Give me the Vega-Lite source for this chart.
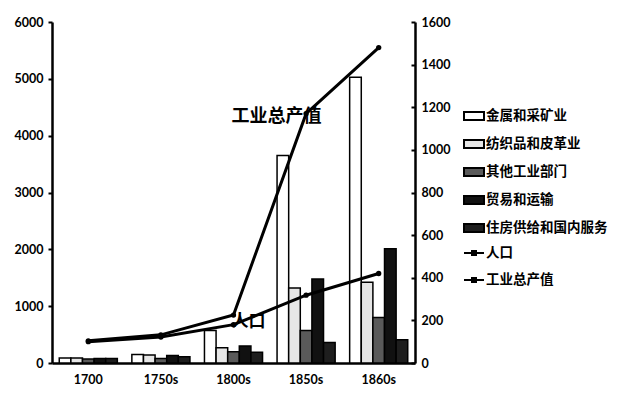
{
  "$schema": "https://vega.github.io/schema/vega-lite/v6.json",
  "width": 363,
  "height": 341,
  "autosize": "none",
  "padding": {"left": 52, "top": 22, "right": 225, "bottom": 30},
  "background": "white",
  "config": {
    "view": {"stroke": null},
    "font": "Noto Sans CJK SC",
    "axis": {
      "grid": false,
      "domainColor": "black",
      "domainWidth": 2.5,
      "tickColor": "black",
      "tickWidth": 2,
      "labelColor": "black",
      "labelFont": "Lato",
      "labelFontWeight": "bold",
      "labelFontSize": 12.5,
      "title": null
    },
    "legend": {
      "labelFont": "Noto Sans CJK SC",
      "labelFontWeight": "bold",
      "labelFontSize": 13.5,
      "labelColor": "black",
      "padding": 0,
      "title": null
    }
  },
  "layer": [
    {
      "data": {
        "values": [
          {"period": "1700", "sector": "金属和采矿业", "value": 90},
          {"period": "1700", "sector": "纺织品和皮革业", "value": 90},
          {"period": "1700", "sector": "其他工业部门", "value": 70},
          {"period": "1700", "sector": "贸易和运输", "value": 80},
          {"period": "1700", "sector": "住房供给和国内服务", "value": 80},
          {"period": "1750s", "sector": "金属和采矿业", "value": 150},
          {"period": "1750s", "sector": "纺织品和皮革业", "value": 140},
          {"period": "1750s", "sector": "其他工业部门", "value": 80},
          {"period": "1750s", "sector": "贸易和运输", "value": 130},
          {"period": "1750s", "sector": "住房供给和国内服务", "value": 110},
          {"period": "1800s", "sector": "金属和采矿业", "value": 570},
          {"period": "1800s", "sector": "纺织品和皮革业", "value": 270},
          {"period": "1800s", "sector": "其他工业部门", "value": 200},
          {"period": "1800s", "sector": "贸易和运输", "value": 300},
          {"period": "1800s", "sector": "住房供给和国内服务", "value": 190},
          {"period": "1850s", "sector": "金属和采矿业", "value": 3650},
          {"period": "1850s", "sector": "纺织品和皮革业", "value": 1320},
          {"period": "1850s", "sector": "其他工业部门", "value": 570},
          {"period": "1850s", "sector": "贸易和运输", "value": 1480},
          {"period": "1850s", "sector": "住房供给和国内服务", "value": 360},
          {"period": "1860s", "sector": "金属和采矿业", "value": 5030},
          {"period": "1860s", "sector": "纺织品和皮革业", "value": 1420},
          {"period": "1860s", "sector": "其他工业部门", "value": 800},
          {"period": "1860s", "sector": "贸易和运输", "value": 2010},
          {"period": "1860s", "sector": "住房供给和国内服务", "value": 410}
        ]
      },
      "mark": {"type": "bar", "stroke": "black", "strokeWidth": 1.5},
      "encoding": {
        "x": {
          "field": "period",
          "type": "nominal",
          "sort": ["1700", "1750s", "1800s", "1850s", "1860s"],
          "scale": {"paddingInner": 0.2, "paddingOuter": 0.1},
          "axis": {"labelAngle": 0, "ticks": false, "labelPadding": 10, "title": null}
        },
        "xOffset": {
          "field": "sector",
          "type": "nominal",
          "sort": ["金属和采矿业", "纺织品和皮革业", "其他工业部门", "贸易和运输", "住房供给和国内服务"],
          "scale": {"paddingInner": 0, "paddingOuter": 0}
        },
        "y": {
          "field": "value",
          "type": "quantitative",
          "scale": {"domain": [0, 6000], "nice": false},
          "axis": {"values": [0, 1000, 2000, 3000, 4000, 5000, 6000], "format": "d", "tickSize": 4, "labelPadding": 5, "title": null}
        },
        "fill": {
          "field": "sector",
          "type": "nominal",
          "scale": {
            "domain": ["金属和采矿业", "纺织品和皮革业", "其他工业部门", "贸易和运输", "住房供给和国内服务"],
            "range": ["#ffffff", "#e6e6e6", "#5a5a5a", "#111111", "#1e1e1e"]
          },
          "legend": {
            "orient": "none",
            "legendX": 411,
            "legendY": 83,
            "symbolType": "M-1,-0.4H1V0.4H-1Z",
            "symbolSize": 400,
            "symbolStrokeColor": "black",
            "symbolStrokeWidth": 2,
            "rowPadding": 9,
            "labelOffset": 1
          }
        }
      }
    },
    {
      "layer": [
        {
          "data": {
            "values": [
              {"period": "1700", "series": "人口", "value": 100},
              {"period": "1750s", "series": "人口", "value": 122},
              {"period": "1800s", "series": "人口", "value": 180},
              {"period": "1850s", "series": "人口", "value": 318},
              {"period": "1860s", "series": "人口", "value": 420},
              {"period": "1700", "series": "工业总产值", "value": 104},
              {"period": "1750s", "series": "工业总产值", "value": 132},
              {"period": "1800s", "series": "工业总产值", "value": 225},
              {"period": "1850s", "series": "工业总产值", "value": 1170},
              {"period": "1860s", "series": "工业总产值", "value": 1480}
            ]
          },
          "layer": [
            {
              "mark": {"type": "line", "strokeWidth": 3},
              "encoding": {
                "x": {"field": "period", "type": "nominal", "sort": ["1700", "1750s", "1800s", "1850s", "1860s"]},
                "y": {
                  "field": "value",
                  "type": "quantitative",
                  "scale": {"domain": [0, 1600], "nice": false},
                  "axis": {"orient": "right", "values": [0, 200, 400, 600, 800, 1000, 1200, 1400, 1600], "format": "d", "tickSize": -4, "labelPadding": 10, "title": null}
                },
                "stroke": {
                  "field": "series",
                  "type": "nominal",
                  "scale": {"domain": ["人口", "工业总产值"], "range": ["black", "black"]},
                  "legend": {
                    "orient": "none",
                    "legendX": 411,
                    "legendY": 220,
                    "symbolType": "M-1,0H1M-0.2,-0.2H0.2V0.2H-0.2Z",
                    "symbolSize": 400,
                    "symbolStrokeWidth": 2,
                    "symbolFillColor": "black",
                    "rowPadding": 9,
                    "labelOffset": 1
                  }
                }
              }
            },
            {
              "mark": {"type": "point", "filled": true, "size": 28, "color": "black", "opacity": 1},
              "encoding": {
                "x": {"field": "period", "type": "nominal", "sort": ["1700", "1750s", "1800s", "1850s", "1860s"]},
                "y": {"field": "value", "type": "quantitative"}
              }
            }
          ]
        },
        {
          "data": {
            "values": [
              {"period": "1800s", "label": "工业总产值", "value": 1156, "size": 18},
              {"period": "1800s", "label": "人口", "value": 193, "size": 17}
            ]
          },
          "mark": {"type": "text", "align": "left", "baseline": "middle", "dx": -2, "fontWeight": "bold", "font": "Noto Sans CJK SC", "color": "black"},
          "encoding": {
            "x": {"field": "period", "type": "nominal", "sort": ["1700", "1750s", "1800s", "1850s", "1860s"]},
            "y": {"field": "value", "type": "quantitative"},
            "text": {"field": "label"},
            "size": {"field": "size", "type": "quantitative", "scale": null, "legend": null}
          }
        }
      ]
    }
  ],
  "resolve": {"scale": {"y": "independent", "fill": "independent", "stroke": "independent"}}
}
